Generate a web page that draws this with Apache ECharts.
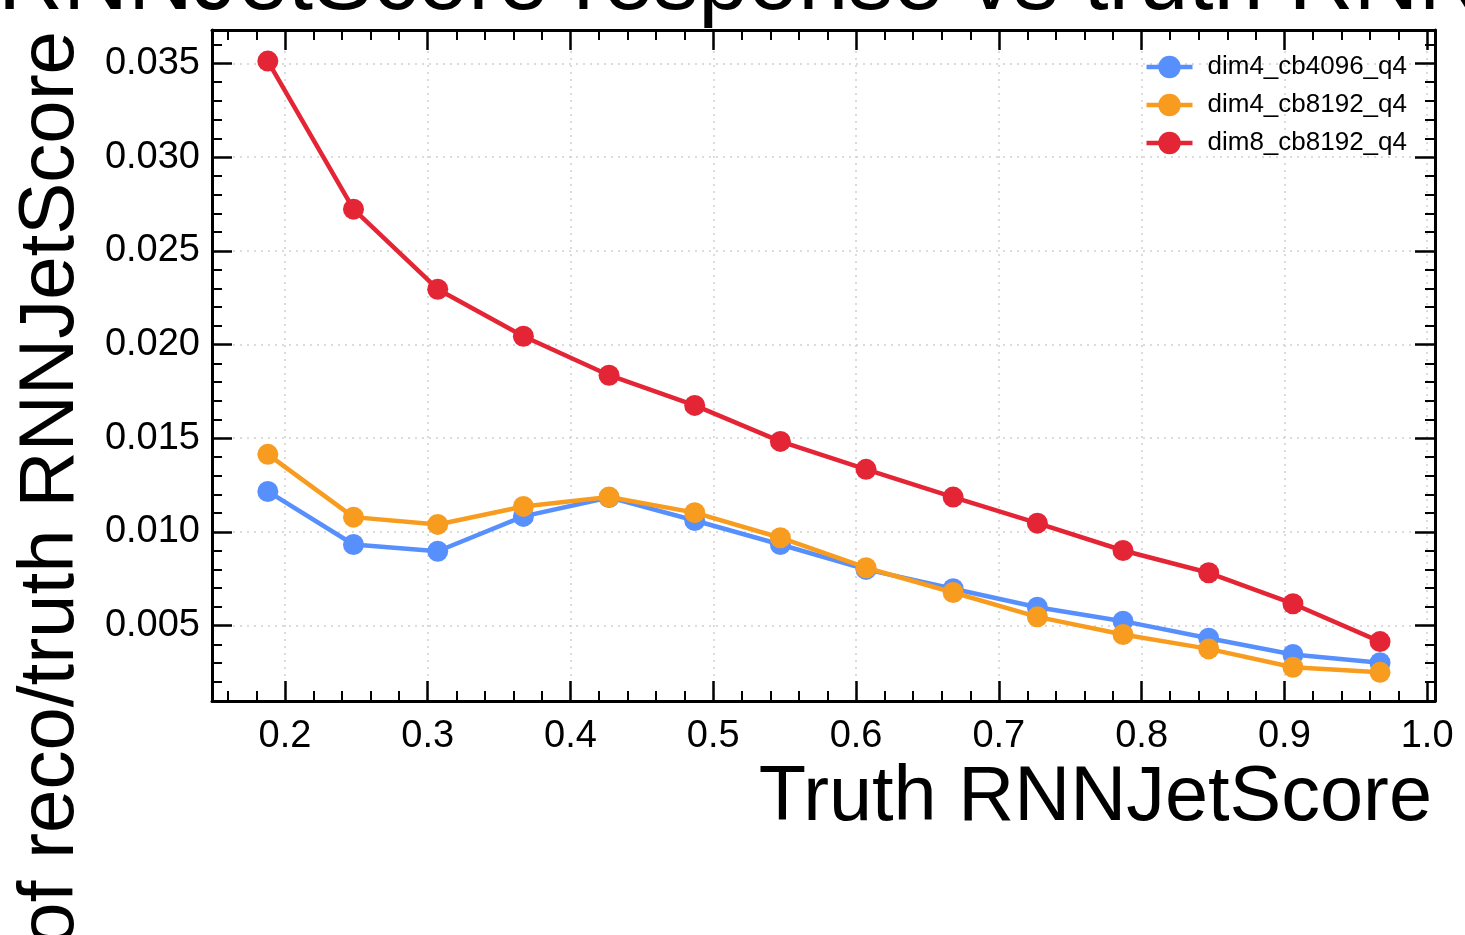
<!DOCTYPE html>
<html><head><meta charset="utf-8">
<script src="https://cdn.jsdelivr.net/npm/echarts@6/dist/echarts.min.js"></script>
<style>html,body{margin:0;padding:0;background:#fff}#c{width:1465px;height:935px}</style>
</head><body><div id="c"></div>
<script>
// ---- data ----
const xValues = [0.188, 0.248, 0.307, 0.367, 0.427, 0.487, 0.547, 0.607, 0.668, 0.727, 0.787, 0.847, 0.906, 0.967];
const seriesNames = ['dim4_cb4096_q4', 'dim4_cb8192_q4', 'dim8_cb8192_q4'];
const dim4_cb4096_q4 = [0.01216, 0.00933, 0.00897, 0.01083, 0.01184, 0.01061, 0.00933, 0.00800, 0.00697, 0.00598, 0.00524, 0.00433, 0.00346, 0.00302];
const dim4_cb8192_q4 = [0.01414, 0.01079, 0.01040, 0.01136, 0.01186, 0.01103, 0.00969, 0.00809, 0.00677, 0.00547, 0.00453, 0.00376, 0.00278, 0.00251];
const dim8_cb8192_q4 = [0.03512, 0.02722, 0.02295, 0.02044, 0.01836, 0.01675, 0.01483, 0.01334, 0.01186, 0.01047, 0.00901, 0.00782, 0.00617, 0.00415];
const xTickLabels = ['0.2', '0.3', '0.4', '0.5', '0.6', '0.7', '0.8', '0.9', '1.0'];
const yTickLabels = ['0.005', '0.010', '0.015', '0.020', '0.025', '0.030', '0.035'];
const titleText = 'RNNJetScore response vs truth RNNJetScore';
const xLabelText = 'Truth RNNJetScore';
const yLabelText = 'Resolution of reco/truth RNNJetScore';

// ---- styling ----
const colors = ['#5790fc', '#f89c20', '#e42536'];
const FONT = '"Liberation Sans", Arial, Helvetica, sans-serif';
const xMin = 0.1489, xMax = 1.0055, yMin = 0.00098, yMax = 0.03678;

const xMajor = xTickLabels.map(Number);
const yMajor = yTickLabels.map(Number);
const xMinor = [];
for (let i = 8; i <= 50; i++) { if (i % 5 !== 0) xMinor.push(+(i * 0.02).toFixed(2)); }
const yMinor = [];
for (let i = 1; i <= 36; i++) { if (i % 5 !== 0) yMinor.push(+(i * 0.001).toFixed(3)); }

const lineBlack = { show: true, lineStyle: { color: '#000', width: 3 } };
function majorTick(vals) { return { show: true, inside: true, length: 20, lineStyle: { color: '#000', width: 2.5 }, customValues: vals }; }
function minorTick(vals) { return { show: true, inside: true, length: 10, lineStyle: { color: '#000', width: 2 }, customValues: vals }; }
const gridLine = { show: true, lineStyle: { color: '#d0d0d0', width: 1.5, type: [2, 5] } };

const xAxes = [
  { type: 'value', position: 'bottom', min: xMin, max: xMax, axisLine: Object.assign({ onZero: false }, lineBlack),
    axisTick: majorTick(xMajor), splitLine: gridLine,
    axisLabel: { show: true, customValues: xMajor, formatter: v => v.toFixed(1), fontSize: 38, color: '#000', fontFamily: FONT, margin: 17 } },
  { type: 'value', position: 'bottom', min: xMin, max: xMax, axisLine: { show: false, onZero: false }, axisTick: minorTick(xMinor), splitLine: { show: false }, axisLabel: { show: false } },
  { type: 'value', position: 'top', min: xMin, max: xMax, axisLine: Object.assign({ onZero: false }, lineBlack), axisTick: majorTick(xMajor), splitLine: { show: false }, axisLabel: { show: false } },
  { type: 'value', position: 'top', min: xMin, max: xMax, axisLine: { show: false, onZero: false }, axisTick: minorTick(xMinor), splitLine: { show: false }, axisLabel: { show: false } }
];
const yAxes = [
  { type: 'value', position: 'left', min: yMin, max: yMax, axisLine: Object.assign({ onZero: false }, lineBlack),
    axisTick: majorTick(yMajor), splitLine: gridLine,
    axisLabel: { show: true, customValues: yMajor, formatter: v => v.toFixed(3), fontSize: 38, color: '#000', fontFamily: FONT, margin: 12 } },
  { type: 'value', position: 'left', min: yMin, max: yMax, axisLine: { show: false, onZero: false }, axisTick: minorTick(yMinor), splitLine: { show: false }, axisLabel: { show: false } },
  { type: 'value', position: 'right', min: yMin, max: yMax, axisLine: Object.assign({ onZero: false }, lineBlack), axisTick: majorTick(yMajor), splitLine: { show: false }, axisLabel: { show: false } },
  { type: 'value', position: 'right', min: yMin, max: yMax, axisLine: { show: false, onZero: false }, axisTick: minorTick(yMinor), splitLine: { show: false }, axisLabel: { show: false } }
];

const allValues = [dim4_cb4096_q4, dim4_cb8192_q4, dim8_cb8192_q4];
const series = seriesNames.map((name, k) => ({
  name, type: 'line', xAxisIndex: 0, yAxisIndex: 0,
  data: xValues.map((x, i) => [x, allValues[k][i]]),
  symbol: 'circle', symbolSize: 21, showSymbol: true,
  lineStyle: { color: colors[k], width: 4.5 },
  itemStyle: { color: colors[k] },
  z: 3 + k
}));

const chart = echarts.init(document.getElementById('c'), null, { renderer: 'canvas' });
chart.setOption({
  animation: false,
  backgroundColor: '#fff',
  grid: { left: 212, right: 30, top: 30, bottom: 234, containLabel: false },
  xAxis: xAxes,
  yAxis: yAxes,
  legend: {
    orient: 'vertical', right: 58, top: 54, padding: 0, itemGap: 12,
    itemWidth: 46, itemHeight: 28,
    data: seriesNames,
    lineStyle: { width: 4.5 },
    textStyle: { fontSize: 26, color: '#000', fontFamily: FONT, padding: [0, 0, 0, 10] }
  },
  series,
  graphic: [
    { type: 'text', x: -2, y: -16, silent: true,
      style: { text: titleText, fontSize: 90, fontFamily: FONT, fill: '#000', textAlign: 'left', textVerticalAlign: 'middle' } },
    { type: 'text', x: 1432, y: 799, silent: true,
      style: { text: xLabelText, fontSize: 77.5, fontFamily: FONT, fill: '#000', textAlign: 'right', textVerticalAlign: 'middle' } },
    { type: 'text', x: 51, y: 31, rotation: Math.PI / 2, silent: true,
      style: { text: yLabelText, fontSize: 78, fontFamily: FONT, fill: '#000', textAlign: 'right', textVerticalAlign: 'middle' } }
  ]
});
</script>
</body></html>
